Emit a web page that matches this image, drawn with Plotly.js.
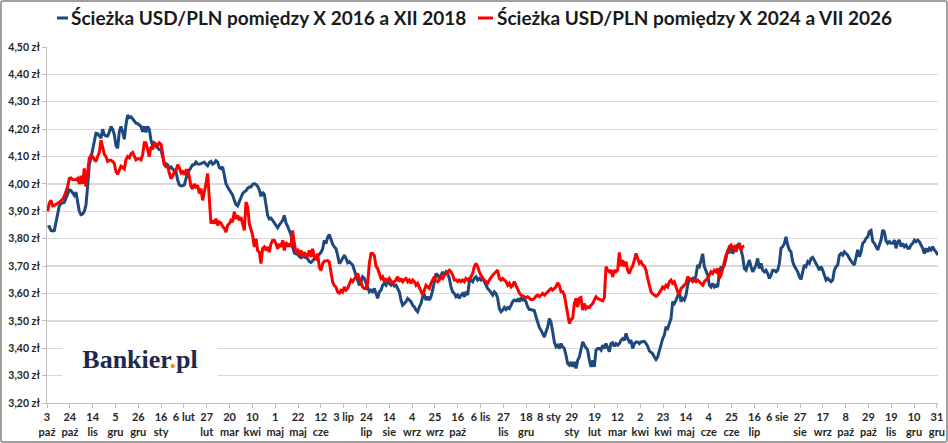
<!DOCTYPE html>
<html>
<head>
<meta charset="utf-8">
<script src="https://cdn.plot.ly/plotly-3.0.1.min.js"></script>
<style>
  body { margin: 0; background: #fff; }
  #wrap { position: relative; width: 948px; height: 443px; }
  #chart { width: 948px; height: 443px; }
  #frame { position: absolute; left: 0; top: 0; width: 948px; height: 443px; box-sizing: border-box;
           border: 2px solid #a0a0a0; border-radius: 3px; pointer-events: none; }
</style>
</head>
<body>
<div id="wrap"><div id="chart"></div><div id="frame"></div></div>
<script>
// USD/PLN readings, one every ~1.53 days counted from 3 Oct (axis day 0)
var START_DAY = 0.58;
var STEP_DAYS = 1.534;

var blueName = 'Ścieżka USD/PLN pomiędzy X 2016 a XII 2018';
var redName = 'Ścieżka USD/PLN pomiędzy X 2024 a VII 2026';

var blueRate = [
  3.842, 3.844, 3.83, 3.828, 3.83, 3.865, 3.895, 3.92, 3.928, 3.93,
  3.933, 3.948, 3.965, 3.978, 3.976, 3.965, 3.958, 3.97, 3.93, 3.90,
  3.888, 3.89, 3.90, 3.923, 3.99, 4.07, 4.095, 4.125, 4.16, 4.185,
  4.184, 4.176, 4.167, 4.20, 4.18, 4.175, 4.175, 4.19, 4.21, 4.20,
  4.18, 4.14, 4.13, 4.19, 4.21, 4.19, 4.163, 4.216, 4.252, 4.242,
  4.245, 4.238, 4.228, 4.222, 4.22, 4.215, 4.21, 4.19, 4.21, 4.188,
  4.21, 4.20, 4.16, 4.14, 4.148, 4.137, 4.13, 4.125, 4.124, 4.094,
  4.075, 4.074, 4.07, 4.057, 4.062, 4.055, 4.05, 4.045, 4.015, 3.996,
  3.993, 3.993, 3.996, 4.02, 4.04, 4.05, 4.06, 4.07,
  4.07, 4.08, 4.073, 4.072, 4.074, 4.078, 4.08, 4.072, 4.066, 4.078,
  4.082, 4.072, 4.076, 4.085, 4.08, 4.06, 4.056, 4.062, 4.032, 4.001,
  3.989, 3.98, 3.97, 3.959, 3.94, 3.925, 3.92, 3.934, 3.952, 3.965,
  3.971, 3.975, 3.984, 3.989, 3.989, 3.998, 4.001, 3.998, 3.991, 3.978,
  3.955, 3.97, 3.962, 3.93, 3.885, 3.872, 3.875, 3.867, 3.858, 3.85,
  3.84, 3.85, 3.86, 3.867, 3.885, 3.857, 3.845, 3.83, 3.815, 3.77,
  3.748, 3.745, 3.743, 3.735, 3.73, 3.735, 3.734, 3.731, 3.727, 3.716,
  3.713, 3.72, 3.725, 3.731, 3.739, 3.743, 3.75, 3.763, 3.794, 3.782,
  3.806, 3.815, 3.795, 3.78, 3.77, 3.763, 3.739, 3.709, 3.717, 3.732,
  3.74, 3.728, 3.712, 3.716, 3.71, 3.704, 3.685, 3.667, 3.655, 3.63,
  3.643, 3.661, 3.655, 3.637, 3.618, 3.606, 3.612, 3.606, 3.618, 3.60,
  3.582, 3.606, 3.612, 3.63, 3.637, 3.63, 3.643, 3.637, 3.63, 3.637,
  3.627, 3.63, 3.618, 3.606, 3.576, 3.557, 3.563, 3.57, 3.582, 3.576,
  3.57, 3.557, 3.551, 3.539, 3.533, 3.551, 3.563, 3.588, 3.594, 3.576,
  3.588, 3.576, 3.588, 3.612, 3.637, 3.673, 3.667, 3.655, 3.667, 3.679,
  3.667, 3.679, 3.673, 3.655, 3.624, 3.606, 3.60, 3.588, 3.594, 3.582,
  3.594, 3.60, 3.588, 3.606, 3.594, 3.643, 3.649, 3.643, 3.655, 3.661,
  3.649, 3.655, 3.649, 3.655, 3.643, 3.63, 3.618, 3.612, 3.60, 3.594,
  3.606, 3.60, 3.582, 3.545, 3.533, 3.539, 3.549, 3.541, 3.549, 3.545,
  3.557, 3.57, 3.576, 3.573, 3.578, 3.57, 3.585, 3.576, 3.578, 3.57,
  3.551, 3.541, 3.541, 3.539, 3.537, 3.515, 3.49, 3.476, 3.466, 3.454,
  3.441, 3.46, 3.478, 3.508, 3.495, 3.46, 3.423, 3.405, 3.411, 3.399,
  3.417, 3.405, 3.399, 3.374, 3.344, 3.338, 3.35, 3.332, 3.35, 3.326,
  3.356, 3.368, 3.393, 3.423, 3.411, 3.399, 3.393, 3.356, 3.332, 3.356,
  3.332, 3.393, 3.399, 3.399, 3.393, 3.411, 3.399, 3.417, 3.399, 3.387,
  3.417, 3.42, 3.407, 3.417, 3.411, 3.417, 3.429, 3.435, 3.429, 3.454,
  3.435, 3.423, 3.429, 3.399, 3.417, 3.423, 3.423, 3.417, 3.423, 3.423,
  3.425, 3.417, 3.407, 3.39, 3.383, 3.38, 3.368, 3.359, 3.368, 3.393,
  3.417, 3.435, 3.448, 3.478, 3.472, 3.496, 3.509, 3.57, 3.563, 3.576,
  3.588, 3.606, 3.57, 3.582, 3.576, 3.594, 3.63, 3.655, 3.649, 3.655,
  3.643, 3.667, 3.704, 3.698, 3.72, 3.745, 3.698, 3.685, 3.667, 3.63,
  3.624, 3.637, 3.624, 3.63, 3.624, 3.673, 3.698, 3.691, 3.704, 3.728,
  3.759, 3.752, 3.765, 3.746, 3.759, 3.771, 3.777, 3.783, 3.759, 3.734,
  3.691, 3.685, 3.704, 3.722, 3.698, 3.679, 3.691, 3.704, 3.728, 3.691,
  3.71, 3.685, 3.679, 3.685, 3.673, 3.655, 3.667, 3.685, 3.685, 3.679,
  3.685, 3.71, 3.765, 3.771, 3.783, 3.807, 3.777, 3.759, 3.752, 3.716,
  3.70, 3.691, 3.679, 3.661, 3.651, 3.679, 3.704, 3.698, 3.716, 3.71,
  3.728, 3.732, 3.722, 3.71, 3.698, 3.685, 3.698, 3.685, 3.667, 3.649,
  3.655, 3.649, 3.643, 3.649, 3.685, 3.698, 3.704, 3.74, 3.746, 3.74,
  3.752, 3.746, 3.74, 3.728, 3.716, 3.71, 3.704, 3.734, 3.759, 3.734,
  3.752, 3.783, 3.789, 3.801, 3.807, 3.826, 3.83, 3.79, 3.783, 3.771,
  3.759, 3.777, 3.795, 3.832, 3.825, 3.792, 3.783, 3.789, 3.783, 3.783,
  3.795, 3.765, 3.789, 3.795, 3.771, 3.783, 3.771, 3.777, 3.765, 3.765,
  3.777, 3.783, 3.795, 3.789, 3.795, 3.789, 3.777, 3.765, 3.746, 3.765,
  3.752, 3.765, 3.759, 3.771, 3.759, 3.752, 3.74
];

var redRate = [
  3.90, 3.93, 3.94, 3.92, 3.922, 3.925, 3.93, 3.933, 3.938, 3.944,
  3.955, 3.97, 3.99, 4.02, 4.022, 4.016, 4.015, 4.015, 4.02, 4.00,
  4.03, 4.00, 4.057, 3.99, 4.045, 4.094, 4.104, 4.10, 4.09, 4.082,
  4.10, 4.115, 4.16, 4.13, 4.108, 4.10, 4.082, 4.086, 4.086, 4.082,
  4.075, 4.045, 4.035, 4.05, 4.065, 4.06, 4.055, 4.088, 4.10, 4.095,
  4.11, 4.115, 4.10, 4.088, 4.092, 4.092, 4.088, 4.106, 4.15, 4.15,
  4.125, 4.10, 4.137, 4.126, 4.15, 4.145, 4.14, 4.15, 4.145, 4.11,
  4.07, 4.063, 4.063, 4.04, 4.02, 4.027, 4.045, 4.048, 4.07, 4.06,
  4.04, 4.045, 4.033, 4.05, 4.05, 4.027, 3.99, 3.982,
  4.00, 3.989, 3.995, 3.965, 3.983, 3.94, 3.965, 4.001, 4.038, 3.96,
  3.855, 3.867, 3.855, 3.873, 3.849, 3.861, 3.857, 3.845, 3.838, 3.824,
  3.849, 3.855, 3.867, 3.861, 3.898, 3.873, 3.885, 3.867, 3.879, 3.855,
  3.83, 3.934, 3.916, 3.855, 3.83, 3.812, 3.77, 3.80, 3.757, 3.751,
  3.709, 3.765, 3.77, 3.757, 3.77, 3.751, 3.782, 3.794, 3.794, 3.782,
  3.763, 3.782, 3.77, 3.794, 3.757, 3.788, 3.772, 3.782, 3.77, 3.83,
  3.782, 3.751, 3.763, 3.739, 3.757, 3.733, 3.751, 3.739, 3.739, 3.757,
  3.733, 3.763, 3.733, 3.727, 3.745, 3.696, 3.684, 3.709, 3.718, 3.72,
  3.72, 3.715, 3.678, 3.641, 3.629, 3.623, 3.605, 3.601, 3.611, 3.605,
  3.624, 3.612, 3.618, 3.637, 3.649, 3.643, 3.655, 3.667, 3.673, 3.655,
  3.637, 3.624, 3.618, 3.618, 3.637, 3.71, 3.746, 3.746, 3.738, 3.70,
  3.691, 3.673, 3.655, 3.661, 3.643, 3.655, 3.643, 3.655, 3.643, 3.637,
  3.643, 3.649, 3.661, 3.643, 3.655, 3.643, 3.651, 3.655, 3.643, 3.649,
  3.637, 3.649, 3.643, 3.63, 3.637, 3.624, 3.606, 3.594, 3.612, 3.63,
  3.624, 3.618, 3.637, 3.649, 3.661, 3.649, 3.643, 3.649, 3.661, 3.655,
  3.667, 3.673, 3.679, 3.685, 3.679, 3.667, 3.649, 3.649, 3.643, 3.649,
  3.643, 3.649, 3.643, 3.655, 3.649, 3.655, 3.661, 3.673, 3.698, 3.71,
  3.698, 3.679, 3.667, 3.655, 3.649, 3.643, 3.637, 3.649, 3.661, 3.667,
  3.673, 3.679, 3.685, 3.655, 3.649, 3.655, 3.649, 3.643, 3.63, 3.637,
  3.624, 3.63, 3.643, 3.63, 3.612, 3.602, 3.594, 3.59, 3.588, 3.585,
  3.588, 3.582, 3.578, 3.578, 3.582, 3.59, 3.594, 3.588, 3.594, 3.60,
  3.594, 3.602, 3.606, 3.612, 3.618, 3.612, 3.618, 3.624, 3.639, 3.63,
  3.606, 3.606, 3.594, 3.563, 3.533, 3.49, 3.505, 3.51, 3.563, 3.582,
  3.551, 3.582, 3.585, 3.539, 3.563, 3.545, 3.551, 3.549, 3.557, 3.563,
  3.576, 3.588, 3.582, 3.578, 3.576, 3.573, 3.585, 3.698, 3.685, 3.679,
  3.685, 3.661, 3.685, 3.679, 3.685, 3.75, 3.70, 3.722, 3.698, 3.716,
  3.685, 3.673, 3.691, 3.70, 3.722, 3.746, 3.728, 3.71, 3.716, 3.704,
  3.70, 3.685, 3.655, 3.63, 3.606, 3.598, 3.594, 3.59, 3.594, 3.606,
  3.612, 3.624, 3.618, 3.63, 3.624, 3.643, 3.649, 3.637, 3.643, 3.624,
  3.606, 3.60, 3.618, 3.624, 3.63, 3.637, 3.661, 3.655, 3.649, 3.643,
  3.649, 3.643, 3.649, 3.643, 3.639, 3.63, 3.643, 3.649, 3.655, 3.667,
  3.679, 3.673, 3.685, 3.679, 3.691, 3.655, 3.667, 3.691, 3.716, 3.74,
  3.752, 3.771, 3.777, 3.765, 3.771, 3.752, 3.771, 3.777, 3.759, 3.771,
  3.773
];

// x axis labels, one every 21 days
var xTickText = ['3<br>paź','24<br>paź','14<br>lis','5<br>gru','26<br>gru','16<br>sty','6 lut','27<br>lut',
  '20<br>mar','10<br>kwi','1<br>maj','22<br>maj','12<br>cze','3 lip','24<br>lip','14<br>sie','4<br>wrz',
  '25<br>wrz','16<br>paź','6 lis','27<br>lis','18<br>gru','8 sty','29<br>sty','19<br>lut','12<br>mar',
  '2<br>kwi','23<br>kwi','14<br>maj','4<br>cze','25<br>cze','16<br>lip','6 sie','27<br>sie','17<br>wrz',
  '8<br>paź','29<br>paź','19<br>lis','10<br>gru','31<br>gru'];
var TICK_EVERY = 21;

var yTickVals = [3.2, 3.3, 3.4, 3.5, 3.6, 3.7, 3.8, 3.9, 4.0, 4.1, 4.2, 4.3, 4.4, 4.5];
var yTickText = ['3,20 zł','3,30 zł','3,40 zł','3,50 zł','3,60 zł','3,70 zł','3,80 zł',
  '3,90 zł','4,00 zł','4,10 zł','4,20 zł','4,30 zł','4,40 zł','4,50 zł'];

var BLUE = '#1f497d';
var RED = '#ff0000';

function daysFor(values) {
  return values.map(function(v, i) { return START_DAY + i * STEP_DAYS; });
}

var xTickVals = xTickText.map(function(t, i) { return i * TICK_EVERY; });

var blue = {
  x: daysFor(blueRate), y: blueRate, name: blueName,
  type: 'scatter', mode: 'lines',
  line: {color: BLUE, width: 3}
};
var red = {
  x: daysFor(redRate), y: redRate, name: redName,
  type: 'scatter', mode: 'lines',
  line: {color: RED, width: 3}
};

var legendFont = {family: 'Lato, sans-serif', size: 19, color: '#1a1a1a', weight: 700};
var tickFont = {family: 'Lato, sans-serif', size: 11, color: '#262626', weight: 700};

var layout = {
  width: 948, height: 443,
  margin: {l: 47, r: 10, t: 47, b: 40},
  paper_bgcolor: '#fff', plot_bgcolor: '#fff',
  showlegend: false,
  xaxis: {
    range: [0, 820], tickmode: 'array', tickvals: xTickVals, ticktext: xTickText,
    tickangle: 0, ticks: 'outside', ticklen: 4, tickcolor: '#bfbfbf',
    showline: true, linecolor: '#bfbfbf', linewidth: 1, showgrid: false, zeroline: false,
    tickfont: tickFont
  },
  yaxis: {
    range: [3.2, 4.5], tickmode: 'array', tickvals: yTickVals, ticktext: yTickText,
    ticks: 'outside', ticklen: 4, tickcolor: '#bfbfbf',
    showline: true, linecolor: '#bfbfbf', linewidth: 1,
    showgrid: true, gridcolor: '#d9d9d9', gridwidth: 1.3, zeroline: false,
    tickfont: {family: 'Lato, sans-serif', size: 10.5, color: '#262626', weight: 700}
  },
  shapes: [
    {type: 'line', xref: 'paper', yref: 'paper', x0: 0.0112, x1: 0.0236, y0: 1.0815, y1: 1.0815,
     line: {color: BLUE, width: 3}},
    {type: 'line', xref: 'paper', yref: 'paper', x0: 0.4837, x1: 0.5006, y0: 1.0815, y1: 1.0815,
     line: {color: RED, width: 3}}
  ],
  annotations: [
    {xref: 'paper', yref: 'paper', x: 0.0247, y: 1.0815, xanchor: 'left', yanchor: 'middle',
     text: blueName, showarrow: false, font: legendFont},
    {xref: 'paper', yref: 'paper', x: 0.5028, y: 1.0815, xanchor: 'left', yanchor: 'middle',
     text: redName, showarrow: false, font: legendFont},
    {xref: 'paper', yref: 'paper', x: 0.1044, y: 0.1236, xanchor: 'center', yanchor: 'middle',
     width: 150, height: 52, borderpad: 2, bgcolor: '#ffffff',
     text: '<b>Bankier<span style="color:#f39200">.</span>pl</b>', showarrow: false,
     font: {family: '"Liberation Serif", serif', size: 26, color: '#1b2a4e'}}
  ]
};

Plotly.newPlot('chart', [blue, red], layout, {displayModeBar: false, staticPlot: true});
</script>
</body>
</html>
